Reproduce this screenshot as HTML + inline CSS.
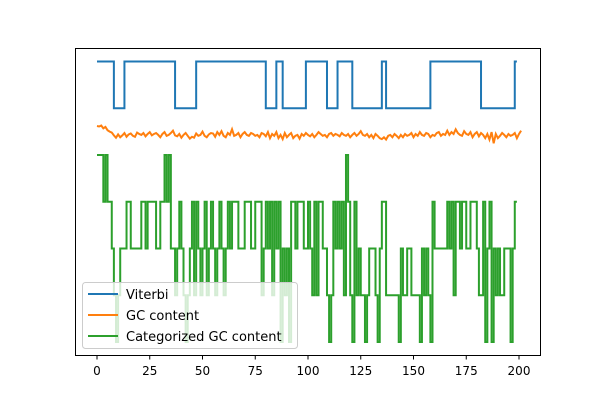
<!DOCTYPE html>
<html><head><meta charset="utf-8"><style>
body{margin:0;background:#fff;}
svg{display:block;font-family:"DejaVu Sans","Liberation Sans",sans-serif;}
</style></head><body>
<svg id="chart" width="600" height="400" xmlns="http://www.w3.org/2000/svg">
<rect x="0" y="0" width="600" height="400" fill="#fff"/>
<g id="series"></g>
<rect x="75.5" y="48.5" width="465" height="307" fill="none" stroke="#000" stroke-width="1"/>
<g id="xticks"></g>
<g>
<rect x="82.5" y="282.5" width="215" height="66" rx="3" fill="rgba(255,255,255,0.8)" stroke="#ccc"/>
<line x1="88" y1="294" x2="118" y2="294" stroke="#1f77b4" stroke-width="2"/>
<text x="126" y="299" font-size="13">Viterbi</text>
<line x1="88" y1="315" x2="118" y2="315" stroke="#ff7f0e" stroke-width="2"/>
<text x="126" y="320" font-size="13">GC content</text>
<line x1="88" y1="336" x2="118" y2="336" stroke="#2ca02c" stroke-width="2"/>
<text x="126" y="341" font-size="13">Categorized GC content</text>
</g>
</svg>
<script>
const xTicks=[0,25,50,75,100,125,150,175,200];
const viterbiChanges=[[0,6],[8,5],[13,6],[37,5],[47,6],[80,5],[85,6],[88,5],[99,6],[109,5],[114,6],[121,5],[135,6],[137,5],[158,6],[182,5],[198,6]];
const categorized=[4,4,4,3,4,3,3,2,1,0,1,2,2,2,3,3,2,2,2,2,2,3,3,2,3,3,3,3,2,2,3,3,4,3,4,2,2,1,2,3,2,1,0,1,2,3,1,3,2,1,2,3,1,2,3,2,1,2,3,2,1,2,3,2,3,3,3,2,2,2,3,3,3,2,2,3,3,3,1,2,3,2,3,1,3,2,3,0,2,1,2,0,3,3,2,3,3,3,2,2,3,2,1,3,1,3,3,2,2,1,0,1,3,2,3,2,3,1,4,3,1,0,3,1,2,1,1,0,1,2,2,2,1,0,2,3,3,1,1,1,1,1,1,0,2,1,1,2,2,1,1,1,1,0,2,1,2,1,0,3,2,2,2,2,2,2,3,2,3,1,3,3,2,3,3,2,2,3,3,3,2,1,1,3,0,2,3,0,2,1,2,1,1,2,2,2,0,2,3,3];
const gc=[4.62,4.61,4.63,4.57,4.6,4.53,4.5,4.48,4.42,4.37,4.44,4.38,4.42,4.47,4.39,4.44,4.46,4.41,4.39,4.48,4.45,4.43,4.47,4.4,4.45,4.49,4.42,4.45,4.47,4.43,4.38,4.45,4.49,4.41,4.43,4.47,4.52,4.42,4.4,4.45,4.37,4.43,4.47,4.41,4.35,4.39,4.37,4.46,4.41,4.43,4.5,4.41,4.38,4.44,4.47,4.46,4.39,4.49,4.43,4.51,4.41,4.38,4.47,4.43,4.55,4.41,4.43,4.47,4.38,4.45,4.49,4.43,4.41,4.47,4.45,4.41,4.43,4.38,4.47,4.45,4.4,4.49,4.36,4.45,4.41,4.49,4.36,4.43,4.34,4.47,4.38,4.43,4.47,4.36,4.41,4.43,4.35,4.45,4.41,4.47,4.43,4.4,4.45,4.38,4.43,4.49,4.45,4.41,4.43,4.38,4.45,4.47,4.41,4.45,4.43,4.4,4.47,4.43,4.41,4.45,4.38,4.43,4.47,4.41,4.45,4.51,4.43,4.41,4.45,4.38,4.43,4.36,4.45,4.41,4.36,4.34,4.38,4.33,4.41,4.43,4.38,4.45,4.41,4.36,4.43,4.38,4.45,4.41,4.43,4.47,4.38,4.45,4.41,4.49,4.43,4.41,4.47,4.45,4.38,4.43,4.41,4.47,4.49,4.41,4.45,4.43,4.52,4.43,4.49,4.45,4.55,4.47,4.43,4.41,4.51,4.45,4.43,4.49,4.38,4.45,4.49,4.4,4.47,4.43,4.36,4.45,4.33,4.49,4.25,4.45,4.36,4.41,4.47,4.43,4.38,4.45,4.41,4.43,4.47,4.36,4.45,4.52];
const X0=97,X1=519, xs=v=>X0+(X1-X0)*v/200;
const ys=v=>342-46.75*v;
const NS='http://www.w3.org/2000/svg';
const g=document.getElementById('series');
function addPath(d,color,name){const p=document.createElementNS(NS,'path');p.setAttribute('d',d);p.setAttribute('fill','none');p.setAttribute('stroke',color);p.setAttribute('stroke-width','2');


g.appendChild(p);}
let d='';viterbiChanges.forEach((c,i)=>{const x=xs(c[0]),y=ys(c[1]);d+=(i?`H${x}V${y}`:`M${x},${y}`);});d+=`H${xs(199)}`;
addPath(d,'#1f77b4','viterbi-line');
d='';gc.forEach((v,i)=>{d+=(i?'L':'M')+xs(i)+','+ys(v);});
addPath(d,'#ff7f0e','gc-content-line');
d='';categorized.forEach((v,i)=>{d+=(i?`H${xs(i)}V${ys(v)}`:`M${xs(i)},${ys(v)}`);});
addPath(d,'#2ca02c','categorized-gc-line');
const xt=document.getElementById('xticks');
xTicks.forEach(t=>{const l=document.createElementNS(NS,'line');l.setAttribute('x1',xs(t));l.setAttribute('x2',xs(t));l.setAttribute('y1',355);l.setAttribute('y2',359.5);l.setAttribute('stroke','#000');


xt.appendChild(l);
const tx=document.createElementNS(NS,'text');tx.setAttribute('x',xs(t));tx.setAttribute('y',375);tx.setAttribute('font-size','12');tx.setAttribute('text-anchor','middle');tx.textContent=t;


xt.appendChild(tx);});
</script>
</body></html>
